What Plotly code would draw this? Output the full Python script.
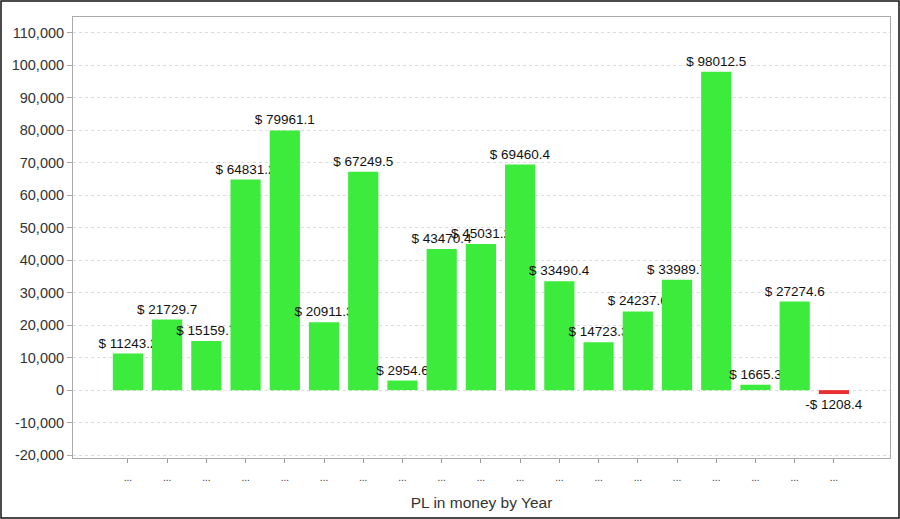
import plotly.graph_objects as go

categories = [f"Y{i}" for i in range(19)]
values = [11243.2, 21729.7, 15159.7, 64831.2, 79961.1, 20911.3, 67249.5, 2954.6,
          43470.4, 45031.2, 69460.4, 33490.4, 14723.3, 24237.6, 33989.7, 98012.5,
          1665.3, 27274.6, -1208.4]
x_tick_labels = ["..."] * 19
y_tick_vals = list(range(-20000, 110001, 10000))
y_tick_text = [f"{v:,}" for v in y_tick_vals]

def fmt(v):
    return f"$ {v}" if v >= 0 else f"-$ {abs(v)}"

FONT = "Liberation Sans, Arial"

fig = go.Figure()
# one trace per bar so each label sits above the previous bar but below the next
for cat, val in zip(categories, values):
    fig.add_trace(go.Bar(
        x=[cat], y=[val],
        marker=dict(color="#3deb3d" if val >= 0 else "#e83030", line=dict(width=0)),
        width=0.77, text=[fmt(val)], textposition="outside",
        constraintext="none",
        textfont=dict(family=FONT, size=13.5, color="#111"),
        cliponaxis=False, hoverinfo="skip",
    ))

W, H = 900, 519
L, R, T, B = 73, 10, 17, 61
pw, ph = W - L - R, H - T - B

fig.update_layout(
    width=W, height=H, margin=dict(l=L, r=R, t=T, b=B, autoexpand=False),
    barmode="overlay",
    paper_bgcolor="white", plot_bgcolor="white", showlegend=False,
    font=dict(family=FONT, color="#333"),
    shapes=[dict(type="rect", xref="paper", yref="paper",
                 x0=-(L - 1) / pw, x1=(pw + R - 1) / pw,
                 y0=-(B - 1) / ph, y1=(ph + T - 1) / ph,
                 line=dict(color="#111", width=1.5), layer="above")],
)
fig.update_xaxes(
    range=[-1.4, 19.43], tickvals=categories, ticktext=x_tick_labels,
    categoryorder="array", categoryarray=categories,
    ticks="outside", ticklen=4, tickcolor="#999", ticklabelstandoff=6,
    tickfont=dict(size=10, color="#333"),
    showline=True, linecolor="#aaa", linewidth=1, mirror=True, showgrid=False,
    title=dict(text="PL in money by Year", font=dict(size=15.5, color="#333"), standoff=15),
)
fig.update_yaxes(
    range=[-20900, 114900], tickvals=y_tick_vals, ticktext=y_tick_text,
    ticks="outside", ticklen=5, tickcolor="#aaa",
    tickfont=dict(size=14.5, color="#333"),
    showline=True, linecolor="#aaa", linewidth=1, mirror=True,
    showgrid=True, gridcolor="#ddd", griddash="dot", zeroline=False,
)

fig.write_html("out.html", config={"displayModeBar": False},
               post_script="document.body.style.margin='0px';")
